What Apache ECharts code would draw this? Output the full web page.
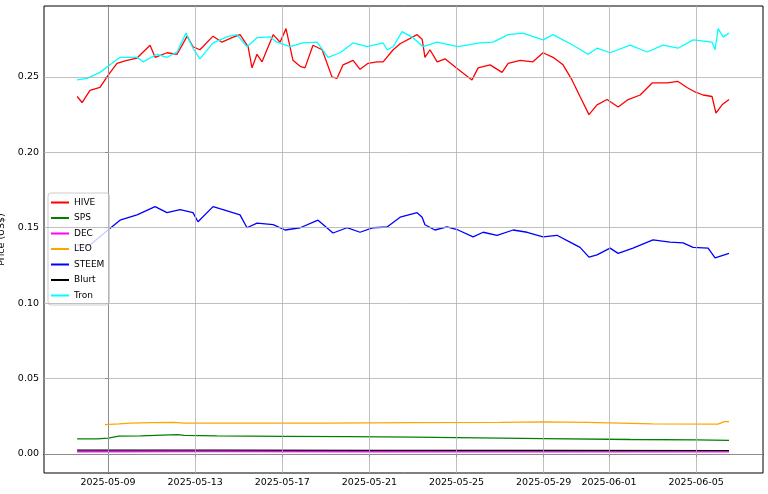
<!DOCTYPE html>
<html><head><meta charset="utf-8">
<script src="https://cdn.jsdelivr.net/npm/echarts@6/dist/echarts.min.js"></script>
<style>html,body{margin:0;padding:0;background:#fff}#c{width:768px;height:494px}</style>
</head><body><div id="c"></div>
<script>
// x values: days offset from 2025-05-09 00:00
const xTicks = [0,4,8,12,16,20,23,27];
const yTicks = [0,0.05,0.10,0.15,0.20,0.25];
const hive = [[-1.42,0.237],[-1.19,0.233],[-0.83,0.241],[-0.37,0.243],[0,0.251],[0.41,0.259],[0.87,0.261],[1.33,0.2625],[1.93,0.271],[2.16,0.263],[2.71,0.266],[3.17,0.265],[3.63,0.277],[3.90,0.270],[4.22,0.268],[4.82,0.277],[5.23,0.273],[5.69,0.276],[6.06,0.278],[6.43,0.270],[6.61,0.256],[6.84,0.265],[7.07,0.260],[7.58,0.278],[7.90,0.273],[8.17,0.282],[8.49,0.261],[8.82,0.257],[9.04,0.256],[9.41,0.271],[9.83,0.268],[10.28,0.250],[10.51,0.249],[10.79,0.258],[11.25,0.261],[11.57,0.255],[11.94,0.259],[12.35,0.260],[12.63,0.260],[13.09,0.268],[13.41,0.272],[14.19,0.278],[14.42,0.275],[14.55,0.263],[14.78,0.268],[15.11,0.260],[15.47,0.262],[16.07,0.255],[16.71,0.248],[16.99,0.256],[17.54,0.258],[18.09,0.253],[18.37,0.259],[18.92,0.261],[19.51,0.260],[19.97,0.266],[20.43,0.263],[20.89,0.258],[21.30,0.248],[21.67,0.237],[22.08,0.225],[22.45,0.2315],[22.91,0.235],[23.42,0.230],[23.88,0.235],[24.43,0.238],[24.98,0.246],[25.67,0.246],[26.17,0.247],[26.58,0.243],[26.95,0.240],[27.32,0.238],[27.73,0.237],[27.91,0.226],[28.19,0.2315],[28.51,0.235]];
const tron = [[-1.42,0.248],[-0.96,0.249],[-0.37,0.253],[0,0.257],[0.55,0.263],[1.33,0.263],[1.61,0.260],[2.25,0.265],[2.71,0.263],[3.17,0.2665],[3.58,0.279],[3.90,0.269],[4.22,0.262],[4.82,0.2725],[5.46,0.2765],[5.92,0.278],[6.38,0.270],[6.84,0.276],[7.44,0.2765],[7.76,0.273],[8.36,0.270],[8.95,0.2725],[9.60,0.273],[10.10,0.263],[10.65,0.266],[11.25,0.2725],[11.89,0.270],[12.63,0.2725],[12.81,0.268],[13.09,0.270],[13.50,0.280],[14.00,0.276],[14.46,0.270],[15.11,0.273],[16.07,0.270],[17.08,0.2725],[17.68,0.273],[18.37,0.278],[19.05,0.279],[19.97,0.2745],[20.43,0.278],[21.35,0.271],[22.04,0.265],[22.45,0.269],[23.05,0.266],[23.97,0.271],[24.75,0.2665],[25.48,0.271],[26.17,0.269],[26.86,0.2745],[27.73,0.273],[27.87,0.268],[28.01,0.282],[28.24,0.2765],[28.51,0.279]];
const steem = [[-1.42,0.1386],[-0.83,0.1386],[0,0.1485],[0.55,0.155],[1.33,0.1585],[2.16,0.164],[2.71,0.160],[3.31,0.162],[3.90,0.160],[4.13,0.154],[4.82,0.164],[5.28,0.162],[6.06,0.1585],[6.38,0.150],[6.84,0.153],[7.58,0.152],[8.13,0.1485],[8.82,0.150],[9.64,0.155],[10.33,0.1465],[10.97,0.150],[11.57,0.147],[12.17,0.150],[12.81,0.1505],[13.41,0.157],[14.19,0.160],[14.42,0.157],[14.55,0.152],[15.01,0.1485],[15.56,0.1505],[16.07,0.1485],[16.76,0.144],[17.22,0.147],[17.86,0.145],[18.60,0.1485],[19.24,0.147],[19.97,0.144],[20.61,0.145],[21.21,0.1405],[21.67,0.137],[22.08,0.1305],[22.45,0.132],[23.05,0.1365],[23.42,0.133],[24.10,0.1365],[25.02,0.142],[25.80,0.1405],[26.40,0.140],[26.86,0.137],[27.55,0.1365],[27.87,0.130],[28.51,0.133]];
const leo = [[-0.14,0.0195],[0.5,0.0200],[1,0.0205],[2,0.0208],[3,0.0210],[3.5,0.0205],[6,0.0205],[10,0.0205],[14,0.0208],[18,0.0210],[20,0.0213],[22,0.0210],[25,0.0200],[28,0.0198],[28.3,0.0215],[28.51,0.0215]];
const sps = [[-1.42,0.0100],[-0.5,0.0100],[0,0.0105],[0.5,0.0118],[1.5,0.0120],[2.5,0.0125],[3.2,0.0128],[3.5,0.0123],[5,0.0120],[8,0.0117],[11,0.0115],[14,0.0112],[16,0.0108],[20,0.0102],[24,0.0096],[27,0.0094],[28.51,0.0090]];
const dec = [[-1.42,0.0015],[5,0.0016],[12,0.0015],[20,0.0014],[28.51,0.0014]];
const blurt = [[-1.42,0.0025],[5,0.0026],[12,0.0024],[20,0.0023],[28.51,0.0022]];

const fmtDate = v => new Date(Date.UTC(2025,4,9) + Math.round(v)*864e5).toISOString().slice(0,10);
const gridStyle = {color:'#b0b0b0', width:0.8, type:'solid'};
const mk = (name,color,data) => ({name, type:'line', data, showSymbol:false, symbol:'none', lineStyle:{color, width:1.3}, itemStyle:{color}, z:3});
const chart = echarts.init(document.getElementById('c'));
chart.setOption({
  animation:false,
  grid:{left:44,right:5,top:6,bottom:21,containLabel:false,outerBoundsMode:'none',show:true,borderColor:'#000',borderWidth:1},
  xAxis:{type:'value',min:-2.94,max:30.07,
    axisLine:{show:true,lineStyle:{color:'#000'}},
    axisTick:{show:true,customValues:xTicks,length:3,lineStyle:{color:'#000'}},
    axisLabel:{customValues:xTicks,formatter:fmtDate,fontSize:9.5,color:'#000',fontFamily:'DejaVu Sans',margin:5},
    splitLine:{show:false}},
  yAxis:{type:'value',min:-0.0126,max:0.297,name:'Price (US$)',nameLocation:'middle',nameGap:33,
    nameTextStyle:{fontSize:9.5,color:'#000',fontFamily:'DejaVu Sans'},
    axisLine:{show:true,lineStyle:{color:'#000'}},
    axisTick:{show:true,customValues:yTicks,length:3,lineStyle:{color:'#000'}},
    axisLabel:{customValues:yTicks,formatter:v=>v.toFixed(2),fontSize:9.5,color:'#000',fontFamily:'DejaVu Sans',margin:5},
    splitLine:{show:false}},
  legend:{data:['HIVE','SPS','DEC','LEO','STEEM','Blurt','Tron'],orient:'vertical',left:48,top:193,
    itemWidth:18,itemHeight:2,itemGap:6.5,icon:'rect',
    textStyle:{fontSize:9,color:'#000',fontFamily:'DejaVu Sans'},
    backgroundColor:'rgba(255,255,255,0.8)',borderColor:'#ccc',borderWidth:1,borderRadius:3,padding:[5,5,5,3]},
  series:[
    {name:'grid',type:'line',data:[],silent:true,z:1,
      markLine:{silent:true,symbol:'none',label:{show:false},lineStyle:gridStyle,animation:false,
        data:[...xTicks.map(d=>({xAxis:d})),...yTicks.map(v=>({yAxis:v}))]}},
    mk('HIVE','#ff0000',hive),
    mk('SPS','#008000',sps),
    mk('DEC','#ff00ff',dec),
    mk('LEO','#ffa500',leo),
    mk('STEEM','#0000ff',steem),
    mk('Blurt','#000000',blurt),
    mk('Tron','#00ffff',tron)
  ]
});
</script></body></html>
